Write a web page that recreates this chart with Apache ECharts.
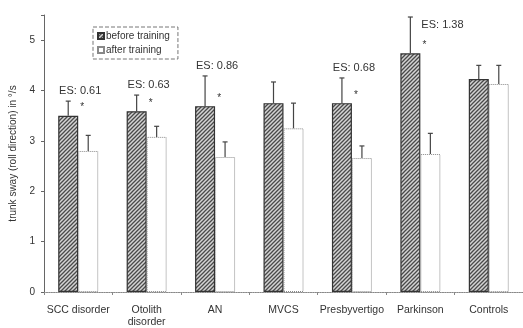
<!DOCTYPE html>
<html><head><meta charset="utf-8">
<script src="https://cdn.jsdelivr.net/npm/echarts@6/dist/echarts.min.js"></script>
<style>html,body{margin:0;padding:0;background:#fff}#c{width:523px;height:328px}</style>
</head><body><div id="c"></div>
<script>
const categories = ['SCC disorder', 'Otolith\ndisorder', 'AN', 'MVCS', 'Presbyvertigo', 'Parkinson', 'Controls'];
const beforeVals = [3.50, 3.59, 3.69, 3.75, 3.75, 4.74, 4.23];
const beforeErrTop = [3.79, 3.91, 4.29, 4.17, 4.25, 5.46, 4.50];
const afterVals = [2.80, 3.08, 2.68, 3.25, 2.66, 2.74, 4.13];
const afterErrTop = [3.11, 3.29, 2.98, 3.75, 2.90, 3.15, 4.50];
const esLabels = ['ES: 0.61', 'ES: 0.63', 'ES: 0.86', '', 'ES: 0.68', 'ES: 1.38', ''];
const significant = [true, true, true, false, true, true, false];
const yTicks = [0, 1, 2, 3, 4, 5];

const FONT = 'Liberation Sans, Arial, sans-serif';
const BAR_W = 20;

function hatch() {
  const s = 4;
  const cv = document.createElement('canvas');
  cv.width = s; cv.height = s;
  const g = cv.getContext('2d');
  g.fillStyle = '#d4d4d4';
  g.fillRect(0, 0, s, s);
  g.strokeStyle = '#4a4a4a';
  g.lineWidth = 1.3;
  g.beginPath();
  g.moveTo(0, s); g.lineTo(s, 0);
  g.moveTo(-1, 1); g.lineTo(1, -1);
  g.moveTo(s - 1, s + 1); g.lineTo(s + 1, s - 1);
  g.stroke();
  return cv;
}

function errRender(sign, withText) {
  return function (params, api) {
    const i = api.value(0);
    const top = api.coord([i, api.value(1)]);
    const et = api.coord([i, api.value(2)]);
    const cx = top[0] + sign * BAR_W / 2;
    const children = [
      { type: 'line', shape: { x1: cx, y1: top[1], x2: cx, y2: et[1] }, style: { stroke: '#444', lineWidth: 1.2 } },
      { type: 'line', shape: { x1: cx - 2.5, y1: et[1], x2: cx + 2.5, y2: et[1] }, style: { stroke: '#444', lineWidth: 1.2 } }
    ];
    if (withText) {
      const lab = esLabels[i];
      if (lab) {
        const gridTop = params.coordSys.y;
        let tx = top[0] + 2, ty = et[1] - 10, align = 'center';
        if (ty - 6 < gridTop) { tx = top[0] + 1; ty = et[1] + 8; align = 'left'; }
        children.push({ type: 'text', x: tx, y: ty, style: { text: lab, fontFamily: FONT, fontSize: 11, fill: '#333', align: align, verticalAlign: 'middle' } });
      }
      if (significant[i]) {
        children.push({ type: 'text', x: top[0] + 4, y: top[1] - 8, style: { text: '*', fontFamily: FONT, fontSize: 10, fill: '#333', align: 'center', verticalAlign: 'middle' } });
      }
    }
    return { type: 'group', children: children };
  };
}

const chart = echarts.init(document.getElementById('c'));
chart.setOption({
  animation: false,
  backgroundColor: '#fff',
  textStyle: { fontFamily: FONT },
  grid: { left: 38, top: 15, width: 487, bottom: 34, containLabel: false },
  legend: {
    left: 93, top: 27, orient: 'vertical',
    data: ['before training', 'after training'],
    itemWidth: 6, itemHeight: 6, itemGap: 4,
    padding: [4, 8, 4, 4],
    borderColor: '#777', borderWidth: 1, borderType: 'dashed',
    icon: 'rect',
    textStyle: { fontSize: 10, color: '#333', fontFamily: FONT, padding: [0, 0, 0, -3] }
  },
  xAxis: {
    type: 'category', data: categories,
    axisLine: { lineStyle: { color: '#888', type: 'dotted', width: 1.2 } },
    axisTick: { show: true, length: 3, lineStyle: { color: '#888' } },
    axisLabel: { color: '#333', fontSize: 10.5, margin: 12, lineHeight: 12, interval: 0 }
  },
  yAxis: {
    type: 'value', min: 0, max: 5.5, interval: 1,
    name: 'trunk sway (roll direction) in °/s', nameLocation: 'middle', nameGap: 26,
    nameTextStyle: { fontSize: 10, color: '#333' },
    splitLine: { show: false },
    axisLine: { show: true, lineStyle: { color: '#666' } },
    axisTick: { show: true, length: 3, lineStyle: { color: '#666' } },
    axisLabel: { color: '#333', fontSize: 10, margin: 9, formatter: v => yTicks.indexOf(v) >= 0 ? String(v) : '' }
  },
  series: [
    { name: 'before training', type: 'bar', data: beforeVals, barWidth: BAR_W, barGap: '0%',
      itemStyle: { color: { image: hatch(), repeat: 'repeat' }, borderColor: '#333', borderWidth: 1.2 } },
    { name: 'after training', type: 'bar', data: afterVals, barWidth: BAR_W, barGap: '0%',
      itemStyle: { color: '#fff', borderColor: '#888', borderWidth: 1, borderType: 'dotted' } },
    { type: 'custom', renderItem: errRender(-1, true), clip: false, z: 5,
      data: beforeVals.map((v, i) => [i, v, beforeErrTop[i]]) },
    { type: 'custom', renderItem: errRender(1, false), clip: false, z: 5,
      data: afterVals.map((v, i) => [i, v, afterErrTop[i]]) }
  ]
});
</script></body></html>
